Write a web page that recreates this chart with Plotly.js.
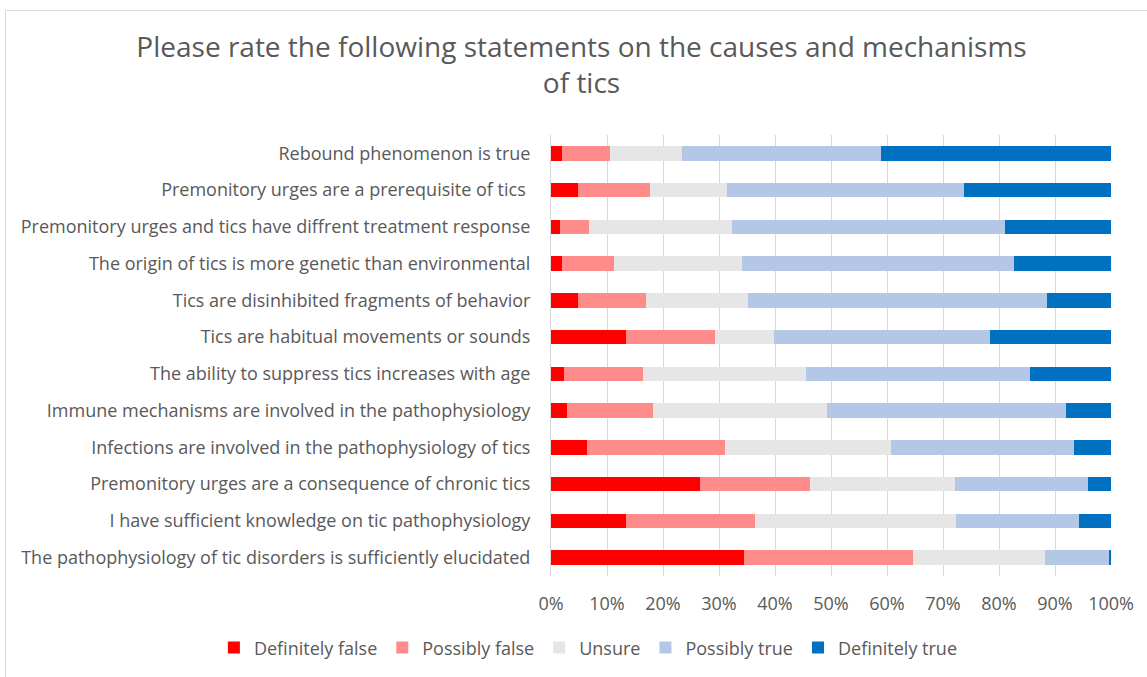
<!DOCTYPE html>
<html>
<head>
<meta charset="utf-8">
<script src="https://cdn.plot.ly/plotly-3.0.1.min.js"></script>
<style>
  html, body { margin: 0; padding: 0; background: #ffffff; overflow: hidden; }
  #frame { position: absolute; left: 5px; top: 10px; width: 1160px; height: 700px; border: 1px solid #d9d9d9; box-sizing: border-box; }
  #chart { position: absolute; left: 0; top: 0; width: 1147px; height: 677px; }
</style>
</head>
<body>
<div id="frame"></div>
<div id="chart"></div>
<script>
// Statements, top to bottom
const statements = [
  "Rebound phenomenon is true",
  "Premonitory urges are a prerequisite of tics\u00a0",
  "Premonitory urges and tics have diffrent treatment response",
  "The origin of tics is more genetic than environmental",
  "Tics are disinhibited fragments of behavior",
  "Tics are habitual movements or sounds",
  "The ability to suppress tics increases with age",
  "Immune mechanisms are involved in the pathophysiology",
  "Infections are involved in the pathophysiology of tics",
  "Premonitory urges are a consequence of chronic tics",
  "I have sufficient knowledge on tic pathophysiology",
  "The pathophysiology of tic disorders is sufficiently elucidated"
];

// Percent of responses per answer (same order as statements)
const definitelyFalse = [2.0, 4.8, 1.6, 2.0, 4.8, 13.4, 2.3, 2.9, 6.5, 26.6, 13.4, 34.4];
const possiblyFalse   = [8.6, 12.9, 5.2, 9.3, 12.2, 15.8, 14.1, 15.3, 24.6, 19.7, 23.1, 30.2];
const unsure          = [12.8, 13.8, 25.5, 22.8, 18.2, 10.6, 29.1, 31.0, 29.6, 25.8, 35.9, 23.6];
const possiblyTrue    = [35.6, 42.2, 48.7, 48.6, 53.4, 38.6, 40.0, 42.7, 32.7, 23.8, 21.9, 11.4];
const definitelyTrue  = [41.0, 26.3, 19.0, 17.4, 11.4, 21.6, 14.5, 8.1, 6.6, 4.1, 5.7, 0.4];

const seriesNames  = ["Definitely false", "Possibly false", "Unsure", "Possibly true", "Definitely true"];
const seriesValues = [definitelyFalse, possiblyFalse, unsure, possiblyTrue, definitelyTrue];
const seriesColors = ["#ff0000", "#ff8b8b", "#e7e6e6", "#b4c7e7", "#0070c0"];

const xTicks = [0, 10, 20, 30, 40, 50, 60, 70, 80, 90, 100];

const traces = seriesNames.map((name, i) => ({
  type: "bar",
  orientation: "h",
  name: name,
  y: statements,
  x: seriesValues[i],
  marker: { color: seriesColors[i], line: { width: 0 } },
  hovertemplate: "%{y}<br>" + name + ": %{x:.1f}%<extra></extra>"
}));

const FONT = "'Open Sans', Lato, sans-serif";

const layout = {
  width: 1147,
  height: 677,
  paper_bgcolor: "rgba(0,0,0,0)",
  plot_bgcolor: "rgba(0,0,0,0)",
  barmode: "stack",
  bargap: 0.6,
  margin: { l: 551, r: 36, t: 135, b: 101, pad: 0, autoexpand: false },
  font: { family: FONT, color: "#595959", size: 18 },
  title: {
    text: "Please rate the following statements on the causes and mechanisms<br>of tics",
    font: { family: FONT, size: 28, color: "#595959" },
    x: 0.507, xanchor: "center",
    y: 0.916, yanchor: "top"
  },
  xaxis: {
    range: [0, 100],
    tickvals: xTicks,
    ticktext: xTicks.map(v => v + "%"),
    showgrid: true,
    gridcolor: "#d9d9d9",
    gridwidth: 1,
    zeroline: false,
    showline: false,
    ticks: "",
    ticklabelstandoff: 15,
    tickfont: { family: FONT, size: 18, color: "#595959" },
    fixedrange: true,
    automargin: false
  },
  yaxis: {
    type: "category",
    autorange: "reversed",
    showgrid: false,
    zeroline: false,
    showline: true,
    linecolor: "#d9d9d9",
    linewidth: 1,
    ticks: "",
    ticklabelstandoff: 16,
    tickfont: { family: FONT, size: 18, color: "#595959" },
    fixedrange: true,
    automargin: false
  },
  showlegend: true,
  legend: {
    orientation: "h",
    x: -0.602, xanchor: "left",
    y: -0.163, yanchor: "middle",
    font: { family: FONT, size: 18, color: "#595959" },
    traceorder: "normal",
    bgcolor: "rgba(0,0,0,0)"
  }
};

Plotly.newPlot("chart", traces, layout, { displayModeBar: false });
</script>
</body>
</html>
